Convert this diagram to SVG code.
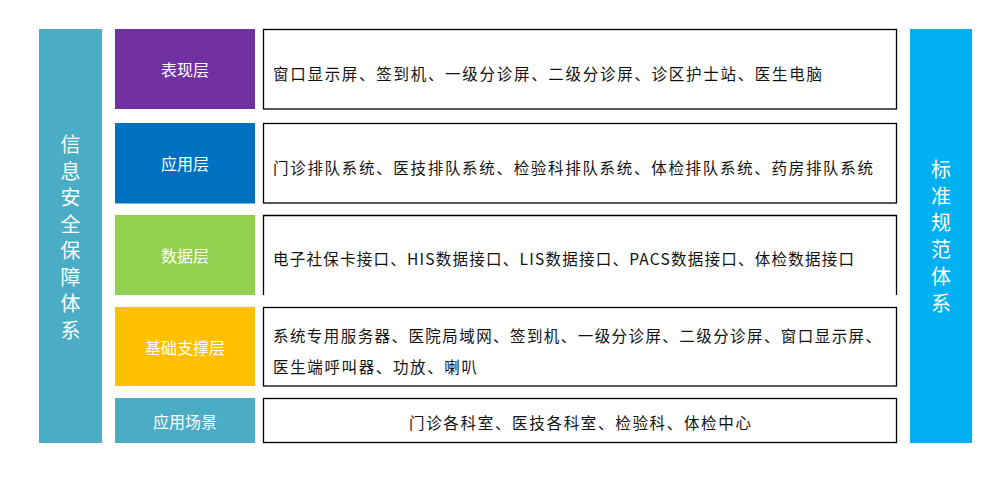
<svg xmlns="http://www.w3.org/2000/svg" width="1000" height="487" viewBox="0 0 1000 487">
<style>
.bar{fill:#4BACC6}
.lbl{font-family:"Noto Sans CJK SC","Liberation Sans",sans-serif;font-size:16px;fill:#fff;text-anchor:middle;dominant-baseline:central}
.vt{font-family:"Noto Sans CJK SC","Liberation Sans",sans-serif;font-size:20px;fill:#fff;text-anchor:middle;dominant-baseline:central}
.box{fill:#fff;stroke:#000;stroke-width:1.3}
.txt{font-family:"Noto Sans CJK SC","Liberation Sans",sans-serif;font-size:15.5px;fill:#111;dominant-baseline:central}
</style>
<rect width="1000" height="487" fill="#fff"/>
<g id="security">
<rect x="39" y="29" width="63" height="414" class="bar"/>
<text class="vt"><tspan x="70.5" y="143">信</tspan><tspan x="70.5" y="169.5">息</tspan><tspan x="70.5" y="196">安</tspan><tspan x="70.5" y="222.5">全</tspan><tspan x="70.5" y="249">保</tspan><tspan x="70.5" y="275.5">障</tspan><tspan x="70.5" y="302">体</tspan><tspan x="70.5" y="328.5">系</tspan></text>
</g>
<g id="standard">
<rect x="910" y="29" width="62" height="414" fill="#00B0F0"/>
<text class="vt"><tspan x="941" y="168">标</tspan><tspan x="941" y="194.7">准</tspan><tspan x="941" y="221.4">规</tspan><tspan x="941" y="248.1">范</tspan><tspan x="941" y="274.8">体</tspan><tspan x="941" y="301.5">系</tspan></text>
</g>
<g id="presentation">
<rect x="115" y="29" width="140" height="80" fill="#7030A0"/>
<text x="185" y="69" class="lbl">表现层</text>
<rect x="263.5" y="29.5" width="633" height="79.5" class="box"/>
<text x="273" y="73" class="txt" textLength="549" lengthAdjust="spacing">窗口显示屏、签到机、一级分诊屏、二级分诊屏、诊区护士站、医生电脑</text>
</g>
<g id="application">
<rect x="115" y="123" width="140" height="80.5" fill="#0070C0"/>
<text x="185" y="163" class="lbl">应用层</text>
<rect x="263.5" y="123.5" width="633" height="79.5" class="box"/>
<text x="273" y="166.5" class="txt" textLength="600" lengthAdjust="spacing">门诊排队系统、医技排队系统、检验科排队系统、体检排队系统、药房排队系统</text>
</g>
<g id="data">
<rect x="115" y="215" width="140" height="80" fill="#92D050"/>
<text x="185" y="255" class="lbl">数据层</text>
<path d="M263.5 295V215.5H896.5V295" fill="none" stroke="#000" stroke-width="1.3"/>
<text x="273" y="258" class="txt" textLength="581" lengthAdjust="spacing">电子社保卡接口、HIS数据接口、LIS数据接口、PACS数据接口、体检数据接口</text>
</g>
<g id="infrastructure">
<rect x="115" y="307" width="140" height="79" fill="#FFC000"/>
<text x="185" y="346.5" class="lbl">基础支撑层</text>
<rect x="263.5" y="307.5" width="633" height="78.5" class="box"/>
<text x="273" y="335" class="txt" textLength="608" lengthAdjust="spacing">系统专用服务器、医院局域网、签到机、一级分诊屏、二级分诊屏、窗口显示屏、</text>
<text x="273" y="366" class="txt" textLength="204" lengthAdjust="spacing">医生端呼叫器、功放、喇叭</text>
</g>
<g id="scenario">
<rect x="115" y="398" width="140" height="45" class="bar"/>
<text x="185" y="421" class="lbl">应用场景</text>
<rect x="263.5" y="398.5" width="633" height="44" class="box"/>
<text x="580" y="421.5" class="txt" text-anchor="middle" textLength="342" lengthAdjust="spacing">门诊各科室、医技各科室、检验科、体检中心</text>
</g>
<g id="connectors"></g>
</svg>
